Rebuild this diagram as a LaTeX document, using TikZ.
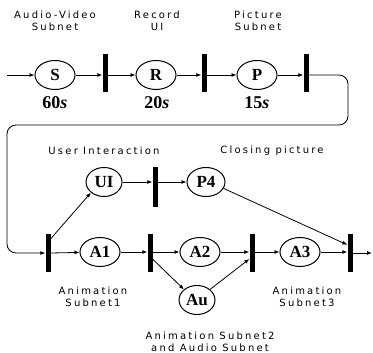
\documentclass[tikz,border=0pt]{standalone}
\usepackage{fontspec}
\setmainfont{Liberation Serif}
\newfontfamily\lblfont[LetterSpace=22]{DejaVu Sans}
\usetikzlibrary{shapes.geometric, positioning, arrows.meta, calc}
\tikzset{
  place/.style={ellipse, draw=black, line width=1pt, minimum width=40pt, minimum height=29pt, inner sep=0pt, font=\bfseries\fontsize{17}{17}\selectfont},
  trans/.style={rectangle, fill=black, minimum width=5pt, minimum height=38pt, inner sep=0pt},
  lbl/.style={align=center, font=\lblfont\fontsize{10}{12.5}\selectfont},
  timelbl/.style={font=\bfseries\fontsize{18}{18}\selectfont},
  arrow/.style={line width=0.8pt,->,>={Latex[length=5pt,width=4pt]}}
}
\begin{document}
\begin{tikzpicture}[x=1pt, y=-1pt]
  \useasboundingbox (0,0) rectangle (373,353);

  % Top row
  \coordinate (start) at (7,75);
  \node (S) [place] at (55,75) {S};
  \node (tS) [trans] at (105,73) {};
  \node (R) [place] at (156,75) {R};
  \node (tR) [trans] at (204,73) {};
  \node (P) [place] at (257,75) {P};
  \node (tP) [trans] at (306,73) {};

  \node (labS) [lbl] at (55,21) {Audio-Video\\Subnet};
  \node (labR) [lbl] at (157,21) {Record\\UI};
  \node (labP) [lbl] at (258,21) {Picture\\Subnet};
  \node (timS) [timelbl] at (55,103) {60\textit{s}};
  \node (timR) [timelbl] at (157,103) {20\textit{s}};
  \node (timP) [timelbl] at (257,103) {15\textit{s}};

  % Middle row
  \node (UI) [place, minimum width=36pt] at (104,182) {UI};
  \node (tUI) [trans, minimum height=40pt] at (155,187) {};
  \node (P4) [place, minimum width=38pt] at (206,182) {P4};
  \node (labUI) [lbl] at (104,151) {User Interaction};
  \node (labP4) [lbl] at (272,151) {Closing picture};

  % Bottom row
  \node (tIn) [trans] at (48,253) {};
  \node (A1) [place] at (100,252) {A1};
  \node (tA1) [trans] at (150,253) {};
  \node (A2) [place] at (200,252) {A2};
  \node (tA2) [trans] at (252,253) {};
  \node (A3) [place] at (300,252) {A3};
  \node (tOut) [trans] at (350,253) {};
  \coordinate (end) at (372,253);
  \node (Au) [place, minimum width=36pt] at (197,300) {Au};

  \node (labA1) [lbl] at (93,297) {Animation\\Subnet1};
  \node (labA3) [lbl] at (307,297) {Animation\\Subnet3};
  \node (labAu) [lbl] at (210,342) {Animation Subnet2\\and Audio Subnet};

  % Top flow
  \draw [arrow] (start) -- (S);
  \draw [arrow] (S) -- (S -| tS.west);
  \draw [arrow] (S -| tS.east) -- (R);
  \draw [arrow] (R) -- (R -| tR.west);
  \draw [arrow] (R -| tR.east) -- (P);
  \draw [arrow] (P) -- (P -| tP.west);

  % Return to bottom row
  \draw [arrow, rounded corners=9pt] (P -| tP.east) -- (348,75) -- (348,125) -- (7,125) -- (7,253) -- (tIn.west);

  % Bottom flow
  \draw [arrow] (tIn.east) -- (A1);
  \draw [arrow] (A1) -- (A1 -| tA1.west);
  \draw [arrow] (A1 -| tA1.east) -- (A2);
  \draw [arrow] (A2) -- (A2 -| tA2.west);
  \draw [arrow] (A2 -| tA2.east) -- (A3);
  \draw [arrow] (A3) -- (A3 -| tOut.west);
  \draw [arrow] (tOut.east) -- (end);

  % Branches
  \draw [arrow] ([yshift=-5pt]tIn.north east) -- (UI.south west);
  \draw [arrow] (UI) -- (UI -| tUI.west);
  \draw [arrow] (UI -| tUI.east) -- (P4);
  \draw [arrow] (P4.-20) -- ([yshift=-11pt]tOut.north west);
  \draw [arrow] ([yshift=13pt]tA1.south east) -- (Au.north west);
  \draw [arrow] (Au.north east) -- ([yshift=-6pt]tA2.west);
\end{tikzpicture}
\end{document}
